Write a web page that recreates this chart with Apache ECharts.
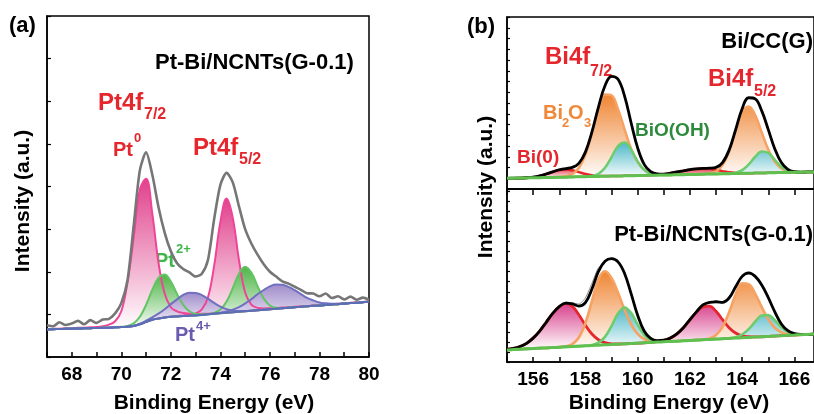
<!DOCTYPE html>
<html>
<head>
<meta charset="utf-8">
<script src="https://cdn.jsdelivr.net/npm/echarts/dist/echarts.min.js"></script>
<style>
html, body { margin: 0; padding: 0; background: #fff; }
#chart { width: 814px; height: 414px; }
</style>
</head>
<body>
<div id="chart"></div>
<script>
var FONT = '"Liberation Sans", Arial, sans-serif'

// ---- (a) Pt 4f, binding energy grid (eV)
var eA = [
	67, 67.25, 67.5, 67.75,
	68, 68.25, 68.5, 68.75,
	69, 69.25, 69.5, 69.75,
	70, 70.25, 70.5, 70.75,
	71, 71.25, 71.5, 71.75,
	72, 72.25, 72.5, 72.75,
	73, 73.25, 73.5, 73.75,
	74, 74.25, 74.5, 74.75,
	75, 75.25, 75.5, 75.75,
	76, 76.25, 76.5, 76.75,
	77, 77.25, 77.5, 77.75,
	78, 78.25, 78.5, 78.75,
	79, 79.25, 79.5, 79.75,
	80
]
// background (Shirley)
var bgA = [
	8.1, 8.15, 8.2, 8.25,
	8.3, 8.35, 8.4, 8.45,
	8.5, 8.55, 8.6, 8.7,
	8.8, 8.9, 9.1, 9.6,
	10.3, 10.9, 11.3, 11.6,
	11.8, 11.9, 12.0, 12.1,
	12.2, 12.35, 12.5, 12.65,
	12.8, 12.95, 13.1, 13.25,
	13.4, 13.55, 13.7, 13.85,
	14.0, 14.15, 14.3, 14.45,
	14.6, 14.75, 14.85, 15.0,
	15.1, 15.25, 15.4, 15.5,
	15.65, 15.8, 15.9, 16.05,
	16.2
]
// component heights above background
var pt0_72 = [
	0.1, 0.1, 0.1, 0.15,
	0.15, 0.2, 0.2, 0.25,
	0.3, 0.5, 0.9, 1.8,
	4.6, 13, 26, 39.5,
	42, 31.2, 16.4, 7,
	2.8, 1.5, 0.9, 0.6,
	0.4, 0.3, 0.2, 0.1,
	0.1, 0.1, 0, 0,
	0, 0, 0, 0,
	0, 0, 0, 0,
	0, 0, 0, 0,
	0, 0, 0, 0,
	0, 0, 0, 0,
	0
]
var pt0_52 = [
	0, 0, 0, 0,
	0, 0, 0, 0,
	0, 0, 0, 0,
	0, 0, 0, 0,
	0, 0, 0, 0,
	0, 0.1, 0.2, 0.35,
	0.6, 1.6, 5.0, 14.2,
	26.8, 33.5, 27.7, 15.2,
	5.5, 1.8, 0.7, 0.4,
	0.3, 0.2, 0.2, 0.15,
	0.15, 0.1, 0.1, 0.1,
	0.1, 0.1, 0.1, 0.1,
	0.1, 0.1, 0.1, 0.1,
	0.1
]
var pt2_72 = [
	0, 0, 0, 0,
	0, 0, 0, 0,
	0, 0, 0, 0,
	0.05, 0.2, 0.8, 2.2,
	5.0, 8.8, 11.9, 12.6,
	10.3, 6.6, 3.3, 1.3,
	0.4, 0.1, 0, 0,
	0, 0, 0, 0,
	0, 0, 0, 0,
	0, 0, 0, 0,
	0, 0, 0, 0,
	0, 0, 0, 0,
	0, 0, 0, 0,
	0
]
var pt2_52 = [
	0, 0, 0, 0,
	0, 0, 0, 0,
	0, 0, 0, 0,
	0, 0, 0, 0,
	0, 0, 0, 0,
	0, 0, 0, 0,
	0, 0, 0.1, 0.3,
	1.1, 3.3, 7.1, 11.2,
	13.1, 11.2, 7.1, 3.3,
	1.1, 0.3, 0.1, 0,
	0, 0, 0, 0,
	0, 0, 0, 0,
	0, 0, 0, 0,
	0
]
var pt4_72 = [
	0, 0, 0, 0,
	0, 0, 0, 0,
	0, 0, 0, 0,
	0, 0, 0.05, 0.15,
	0.35, 0.74, 1.4, 2.4,
	3.7, 5.0, 6.2, 6.76,
	6.6, 5.8, 4.6, 3.2,
	2.0, 1.1, 0.57, 0.26,
	0.1, 0.05, 0, 0,
	0, 0, 0, 0,
	0, 0, 0, 0,
	0, 0, 0, 0,
	0, 0, 0, 0,
	0
]
var pt4_52 = [
	0, 0, 0, 0,
	0, 0, 0, 0,
	0, 0, 0, 0,
	0, 0, 0, 0,
	0, 0, 0, 0,
	0, 0, 0, 0,
	0, 0, 0.03, 0.08,
	0.2, 0.4, 0.8, 1.4,
	2.3, 3.4, 4.7, 5.8,
	6.7, 7.1, 6.9, 6.1,
	5.0, 3.7, 2.5, 1.6,
	0.9, 0.5, 0.23, 0.1,
	0.05, 0, 0, 0,
	0
]
// measured spectrum
var rawA = [
	9.3, 9.0, 10.2, 9.4,
	9.8, 10.6, 9.6, 10.8,
	10.0, 11.0, 11.2, 12.8,
	15.8, 22.5, 38.5, 54.8,
	60.0, 53.5, 44.0, 36.5,
	31.0, 27.5, 25.8, 24.8,
	23.6, 24.4, 28.5, 40.5,
	50.5, 54.0, 51.2, 44.2,
	37.5, 33.3, 30.0, 27.2,
	25.0, 23.6, 22.2, 21.5,
	20.6, 19.7, 18.7, 18.6,
	17.8, 18.6, 17.3, 17.8,
	16.9, 17.7, 16.8, 17.4,
	16.8
]

// ---- (b) Bi 4f
var eB = [
	155, 155.25, 155.5, 155.75,
	156, 156.25, 156.5, 156.75,
	157, 157.25, 157.5, 157.75,
	158, 158.25, 158.5, 158.75,
	159, 159.25, 159.5, 159.75,
	160, 160.25, 160.5, 160.75,
	161, 161.25, 161.5, 161.75,
	162, 162.25, 162.5, 162.75,
	163, 163.25, 163.5, 163.75,
	164, 164.25, 164.5, 164.75,
	165, 165.25, 165.5, 165.75,
	166, 166.25, 166.5, 166.75
]
// Bi/CC(G)
var bgB1 = [
	6.2, 6.3, 6.35, 6.45,
	6.5, 6.6, 6.7, 6.75,
	6.85, 6.9, 7.0, 7.1,
	7.15, 7.25, 7.3, 7.4,
	7.5, 7.55, 7.65, 7.7,
	7.8, 7.9, 7.95, 8.05,
	8.1, 8.2, 8.3, 8.35,
	8.45, 8.5, 8.6, 8.7,
	8.75, 8.85, 8.9, 9.0,
	9.1, 9.15, 9.25, 9.3,
	9.4, 9.5, 9.55, 9.65,
	9.7, 9.8, 9.9, 9.95
]
var bi0B1 = [
	0, 0, 0, 0.1,
	0.4, 1.0, 2.0, 3.2,
	4.2, 4.5, 3.9, 2.7,
	1.6, 0.7, 0.25, 0.1,
	0, 0, 0, 0,
	0, 0, 0.1, 0.2,
	0.5, 1.0, 1.6, 2.2,
	2.8, 3.2, 3.3, 3.0,
	2.3, 1.5, 0.8, 0.35,
	0.1, 0, 0, 0,
	0, 0, 0, 0,
	0, 0, 0, 0
]
var bi2o3B1 = [
	0, 0, 0, 0,
	0, 0, 0, 0,
	0.15, 0.5, 1.65, 5.15,
	12.7, 24.9, 38.6, 47.6,
	47.0, 38.8, 27.0, 15.7,
	7.8, 3.2, 1.1, 0.35,
	0.1, 0, 0, 0,
	0, 0, 0.1, 0.4,
	1.5, 5.0, 12.8, 24.6,
	35.6, 38.8, 33.6, 23.6,
	13.5, 6.3, 2.4, 0.7,
	0.2, 0, 0, 0
]
var bioohB1 = [
	0, 0, 0, 0,
	0, 0, 0, 0,
	0, 0, 0, 0,
	0, 0.3, 1.5, 4.9,
	11.0, 17.4, 19.4, 15.1,
	8.3, 3.2, 0.9, 0.2,
	0, 0, 0, 0,
	0, 0, 0, 0,
	0, 0, 0.1, 0.5,
	1.9, 5.1, 9.5, 12.5,
	11.6, 7.5, 3.4, 1.1,
	0.2, 0, 0, 0
]
var envB1 = [
	6.2, 6.3, 6.35, 6.55,
	6.9, 7.6, 8.7, 9.95,
	11.2, 11.9, 12.55, 14.95,
	21.45, 33.15, 47.65, 60.0,
	65.5, 63.75, 54.05, 38.5,
	23.9, 14.3, 10.05, 8.8,
	8.7, 9.2, 9.9, 10.55,
	11.25, 11.7, 12.0, 12.1,
	12.55, 15.35, 22.6, 34.45,
	46.7, 53.05, 52.35, 45.4,
	34.5, 23.3, 15.35, 11.45,
	10.1, 9.8, 9.9, 9.95
]
// Pt-Bi/NCNTs(G-0.1)
var bgB2 = [
	7.0, 7.2, 7.4, 7.6,
	7.8, 8.0, 8.15, 8.35,
	8.55, 8.75, 8.95, 9.15,
	9.35, 9.55, 9.75, 9.95,
	10.1, 10.3, 10.5, 10.7,
	10.9, 11.1, 11.3, 11.5,
	11.7, 11.9, 12.05, 12.25,
	12.45, 12.65, 12.85, 13.05,
	13.25, 13.45, 13.65, 13.85,
	14.0, 14.2, 14.4, 14.6,
	14.8, 15.0, 15.2, 15.4,
	15.6, 15.8, 15.95, 16.15
]
var bi0B2 = [
	0.26, 0.66, 1.55, 3.2,
	6.0, 9.9, 14.8, 19.7,
	23.4, 25.0, 23.2, 18.2,
	11.9, 6.6, 3.1, 1.2,
	0.4, 0.1, 0, 0,
	0, 0, 0.1, 0.3,
	0.8, 1.9, 4.1, 7.5,
	11.8, 16.1, 19.0, 19.2,
	16.1, 11.0, 6.2, 2.9,
	1.1, 0.4, 0.1, 0,
	0, 0, 0, 0,
	0, 0, 0, 0
]
var bi2o3B2 = [
	0, 0, 0, 0,
	0, 0, 0, 0,
	0.1, 0.3, 1.4, 5.0,
	13.1, 25.7, 38.1, 42.5,
	38.5, 29.8, 19.7, 11.1,
	5.4, 2.2, 0.8, 0.25,
	0, 0, 0, 0,
	0, 0, 0.15, 0.6,
	2.4, 6.9, 15.1, 25.1,
	31.5, 30.8, 25.0, 17.2,
	9.9, 4.8, 1.9, 0.7,
	0.2, 0, 0, 0
]
var bioohB2 = [
	0, 0, 0, 0,
	0, 0, 0, 0,
	0, 0, 0, 0,
	0, 0.3, 1.4, 4.6,
	10.7, 17.7, 21.0, 17.7,
	10.7, 4.6, 1.4, 0.3,
	0, 0, 0, 0,
	0, 0, 0, 0,
	0, 0, 0.1, 0.5,
	1.9, 4.8, 8.9, 12.2,
	12.3, 9.1, 4.9, 2.0,
	0.6, 0.1, 0, 0
]
var envB2 = [
	7.26, 7.86, 8.95, 10.8,
	13.8, 17.9, 22.95, 28.05,
	32.05, 34.05, 33.55, 32.35,
	34.35, 42.15, 52.35, 58.25,
	59.7, 57.9, 51.2, 39.5,
	27.0, 17.9, 13.6, 12.35,
	12.6, 13.9, 16.2, 19.8,
	24.5, 29.0, 33.0, 34.5,
	34.8, 34.5, 37.0, 43.5,
	49.5, 51.5, 49.5, 44.5,
	37.2, 29.0, 22.0, 18.1,
	16.4, 15.9, 15.95, 16.15
]
var rawB2 = [
	7.5, 7.6, 9.3, 10.4,
	14.5, 17.4, 23.5, 28.6,
	31.4, 34.6, 34.2, 33.5,
	37.0, 45.5, 54.5, 57.6,
	60.2, 57.4, 51.8, 38.8,
	27.6, 17.2, 13.9, 12.0,
	12.9, 13.6, 16.8, 19.3,
	25.1, 28.6, 33.7, 34.0,
	35.6, 34.1, 37.9, 42.8,
	50.1, 50.8, 50.2, 43.8,
	37.9, 28.4, 22.6, 17.8,
	16.8, 15.7, 16.2, 16.0
]

var SM = 0.4
var stackNo = 0

function grad(top) {
	return new echarts.graphic.LinearGradient(0, 0, 0, 1, [
		{ offset: 0, color: top },
		{ offset: 1, color: "#ffffff" }
	])
}

// a fitted component, filled from the background up
function peak(ax, base, vals, lineColor, fillColor, w) {
	var key = "pk" + stackNo++
	return [
		{
			type: "line", xAxisIndex: ax, yAxisIndex: ax, stack: key, data: base,
			symbol: "none", smooth: SM, silent: true, lineStyle: { opacity: 0 }
		},
		{
			type: "line", xAxisIndex: ax, yAxisIndex: ax, stack: key, data: vals,
			symbol: "none", smooth: SM, silent: true,
			lineStyle: { color: lineColor, width: w || 2 },
			areaStyle: { color: grad(fillColor), opacity: 1 }
		}
	]
}

function curve(ax, vals, color, width, smooth) {
	return {
		type: "line", xAxisIndex: ax, yAxisIndex: ax, data: vals,
		symbol: "none", smooth: smooth, silent: true,
		lineStyle: { color: color, width: width }
	}
}

var isInt = function(i, v) { return Number(v) % 1 === 0 }
var isEven = function(i, v) { return Number(v) % 2 === 0 }

function xAx(grid, data, showLabel, inside) {
	return {
		gridIndex: grid, type: "category", data: data, boundaryGap: false,
		axisLine: { lineStyle: { color: "#000", width: 1.5 } },
		axisTick: { interval: isInt, inside: inside, length: inside ? 5 : 6, lineStyle: { color: "#000", width: 1.5 } },
		axisLabel: {
			show: showLabel, interval: isEven,
			formatter: function(v) { return String(Number(v)) },
			color: "#000", fontFamily: FONT, fontWeight: "bold", fontSize: 19, margin: 8
		},
		splitLine: { show: false }
	}
}

function yAx(grid, step, len) {
	return {
		gridIndex: grid, type: "value", min: 0, max: 100, interval: step,
		axisLine: { show: true, lineStyle: { color: "#000", width: 1.5 } },
		axisTick: { show: true, inside: true, length: len, lineStyle: { color: "#000", width: 1.2 } },
		axisLabel: { show: false },
		splitLine: { show: false }
	}
}

function txt(s, x, y, size, color, align, rot) {
	return {
		type: "text", x: x, y: y, rotation: rot || 0, silent: true,
		style: {
			text: s, fill: color, font: "bold " + size + "px " + FONT,
			textAlign: align || "left", textVerticalAlign: "middle",
			align: align || "left", verticalAlign: "middle"
		}
	}
}

var RED = "#e5262d"

var series = []
	.concat(peak(0, bgA, pt0_72, "#ef4596", "#e0418c"))
	.concat(peak(0, bgA, pt0_52, "#ef4596", "#e0418c"))
	.concat(peak(0, bgA, pt2_72, "#62c462", "#4fb548"))
	.concat(peak(0, bgA, pt2_52, "#62c462", "#4fb548"))
	.concat(peak(0, bgA, pt4_72, "#7070c0", "#a08ccb"))
	.concat(peak(0, bgA, pt4_52, "#7070c0", "#a08ccb"))
	.concat([curve(0, rawA, "#767676", 2.6, 0.25), curve(0, bgA, "#5a6db5", 2, SM)])
	.concat(peak(1, bgB1, bi0B1, RED, "#e23a4a", 2.5))
	.concat(peak(1, bgB1, bi2o3B1, "#f5a262", "#ef8533", 2.5))
	.concat(peak(1, bgB1, bioohB1, "#6dcc6d", "#4db8c8", 2.5))
	.concat([curve(1, envB1, "#000", 2.8, SM), curve(1, bgB1, "#5fbf4f", 3, SM)])
	.concat(peak(2, bgB2, bi0B2, RED, "#d8418c", 2.8))
	.concat(peak(2, bgB2, bi2o3B2, "#f5a262", "#ef8533", 2.6))
	.concat(peak(2, bgB2, bioohB2, "#6dcc6d", "#4db8c8", 2.6))
	.concat([
		curve(2, rawB2, "#8a8a8a", 1, 0.2),
		curve(2, envB2, "#000", 2.8, SM),
		curve(2, bgB2, "#5fbf4f", 3, SM)
	])

var option = {
	animation: false,
	backgroundColor: "#fff",
	grid: [
		{ left: 47, top: 16, width: 322, height: 341, show: true, borderColor: "#000", borderWidth: 1.5 },
		{ left: 507, top: 17, width: 310, height: 172, show: true, borderColor: "#000", borderWidth: 1.5 },
		{ left: 507, top: 189, width: 310, height: 173, show: true, borderColor: "#000", borderWidth: 1.5 }
	],
	xAxis: [xAx(0, eA, true, true), xAx(1, eB, false, false), xAx(2, eB, true, true)],
	yAxis: [yAx(0, 12.5, 4), yAx(1, 6.25, 3), yAx(2, 5.8, 3)],
	series: series,
	graphic: [
		txt("(a)", 9, 26, 22, "#000"),
		txt("Pt-Bi/NCNTs(G-0.1)", 155, 63, 22, "#000"),
		txt("Pt4f", 98, 103, 24, RED),
		txt("7/2", 144, 115, 16, RED),
		txt("Pt", 113, 150, 20, RED),
		txt("0", 134, 138, 13, RED),
		txt("Pt4f", 193, 148, 24, RED),
		txt("5/2", 239, 160, 16, RED),
		txt("Pt", 155, 261, 20, "#3fb54a"),
		txt("2+", 176, 249, 13, "#3fb54a"),
		txt("Pt", 175, 335, 20, "#6a5bb0"),
		txt("4+", 196, 326, 13, "#6a5bb0"),
		txt("Intensity (a.u.)", 23, 201, 21, "#000", "center", Math.PI / 2),
		txt("Binding Energy (eV)", 214, 403, 21, "#000", "center"),

		txt("(b)", 467, 27, 22, "#000"),
		txt("Bi/CC(G)", 813, 42, 22, "#000", "right"),
		txt("Bi4f", 545, 57, 24, RED),
		txt("7/2", 590, 72, 16, RED),
		txt("Bi4f", 708, 79, 24, RED),
		txt("5/2", 754, 92, 16, RED),
		txt("Bi", 543, 113, 20, "#f0883a"),
		txt("2", 562, 123, 13, "#f0883a"),
		txt("O", 568, 113, 20, "#f0883a"),
		txt("3", 584, 123, 13, "#f0883a"),
		txt("BiO(OH)", 635, 131, 19, "#2e8a3c"),
		txt("Bi(0)", 517, 158, 19, RED),
		txt("Pt-Bi/NCNTs(G-0.1)", 813, 235, 22, "#000", "right"),
		txt("Intensity (a.u.)", 486, 187, 21, "#000", "center", Math.PI / 2),
		txt("Binding Energy (eV)", 669, 403, 21, "#000", "center")
	]
}

var chart = echarts.init(document.getElementById("chart"))
chart.setOption(option)
</script>
</body>
</html>
